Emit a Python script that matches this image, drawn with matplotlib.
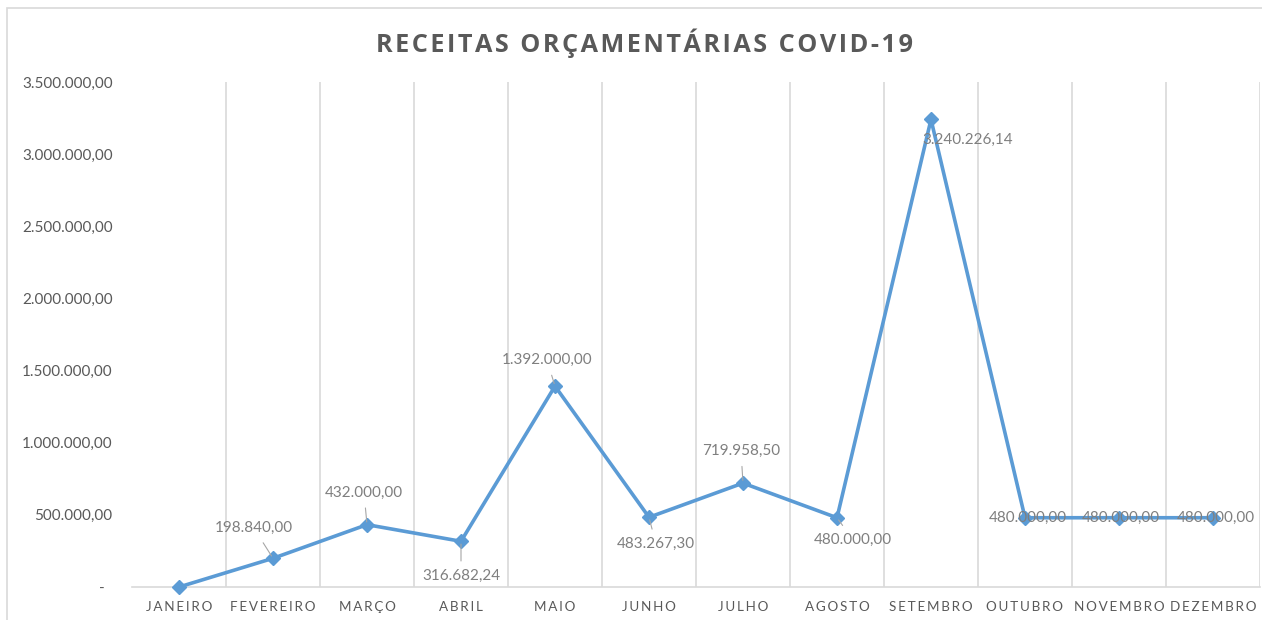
import numpy as np
import matplotlib
matplotlib.use('Agg')
import matplotlib.pyplot as plt
from matplotlib.patches import Rectangle

# data
meses = ['JANEIRO', 'FEVEREIRO', 'MARÇO', 'ABRIL', 'MAIO', 'JUNHO', 'JULHO',
         'AGOSTO', 'SETEMBRO', 'OUTUBRO', 'NOVEMBRO', 'DEZEMBRO']
receitas = [0, 198840.00, 432000.00, 316682.24, 1392000.00, 483267.30, 719958.50,
            480000.00, 3240226.14, 480000.00, 480000.00, 480000.00]
rotulos = ['', '198.840,00', '432.000,00', '316.682,24', '1.392.000,00', '483.267,30',
           '719.958,50', '480.000,00', '3.240.226,14', '480.000,00', '480.000,00', '480.000,00']
yticks = [0, 500000, 1000000, 1500000, 2000000, 2500000, 3000000, 3500000]
ytick_labels = ['-', '500.000,00', '1.000.000,00', '1.500.000,00', '2.000.000,00',
                '2.500.000,00', '3.000.000,00', '3.500.000,00']

# label offsets in pixels (dx, dy), leader line or not
offsets = [(0, 0), (-19, 30), (-3, 32), (0, -35), (-8, 26), (7, -27), (-2, 32),
           (16, -22), (37, -20), (3, 0), (2, 0), (3, 0)]
leader = [False, True, True, True, True, True, True, True, False, False, False, False]

FONT = 'Lato'
GRAY = '#595959'
LBL = '#7f7f7f'
BLUE = '#5B9BD5'

def spaced(s, sep='\u2009'):
    return sep.join(s)

fig = plt.figure(figsize=(12.62, 6.2), dpi=100)
ax = fig.add_axes([132/1262, 1-587/620, 1128/1262, 505/620])

x = np.arange(len(meses))
ax.plot(x, receitas, color=BLUE, lw=2.6, marker='D', ms=7, zorder=3, clip_on=False)

for i in range(len(meses)):
    if not rotulos[i]:
        continue
    dx, dy = offsets[i]
    ap = dict(arrowstyle='-', color='#a6a6a6', lw=0.8, shrinkA=4, shrinkB=2) if leader[i] else None
    ax.annotate(rotulos[i], (x[i], receitas[i]), xytext=(dx, dy), textcoords='offset pixels',
                ha='center', va='center', fontsize=11, color=LBL, family=FONT,
                arrowprops=ap, zorder=4)

ax.set_xlim(-0.5, len(meses) - 0.5)
ax.set_ylim(0, 3500000)
ax.set_yticks(yticks)
ax.set_yticklabels([l if l != '-' else '-  ' for l in ytick_labels], fontsize=11,
                   color=GRAY, family=FONT)
ax.set_xticks(x)
ax.set_xticklabels([spaced(m, '\u2009') for m in meses], fontsize=9.7, color=GRAY, family=FONT)
ax.tick_params(axis='y', length=0, pad=14)
ax.tick_params(axis='x', length=0, pad=10)

# category separators
for b in np.arange(0.5, len(meses) - 0.5 + 1, 1):
    ax.axvline(b, color='#d9d9d9', lw=1.2, zorder=1)
for s in ['top', 'right', 'left']:
    ax.spines[s].set_visible(False)
ax.spines['bottom'].set_color('#d9d9d9')
ax.spines['bottom'].set_linewidth(1.2)

fig.text(644/1262, 1-43/620, spaced('RECEITAS ORÇAMENTÁRIAS COVID-19', '\u200a'),
         ha='center', va='center', fontsize=18.2, fontweight='bold', color=GRAY, family='Open Sans')

fig.patches.append(Rectangle((7/1262, -0.1), 1.2, 1-8/620+0.1, transform=fig.transFigure,
                             fill=False, edgecolor='#d9d9d9', lw=1.2))

fig.savefig('out.png', dpi=100, facecolor='white')
